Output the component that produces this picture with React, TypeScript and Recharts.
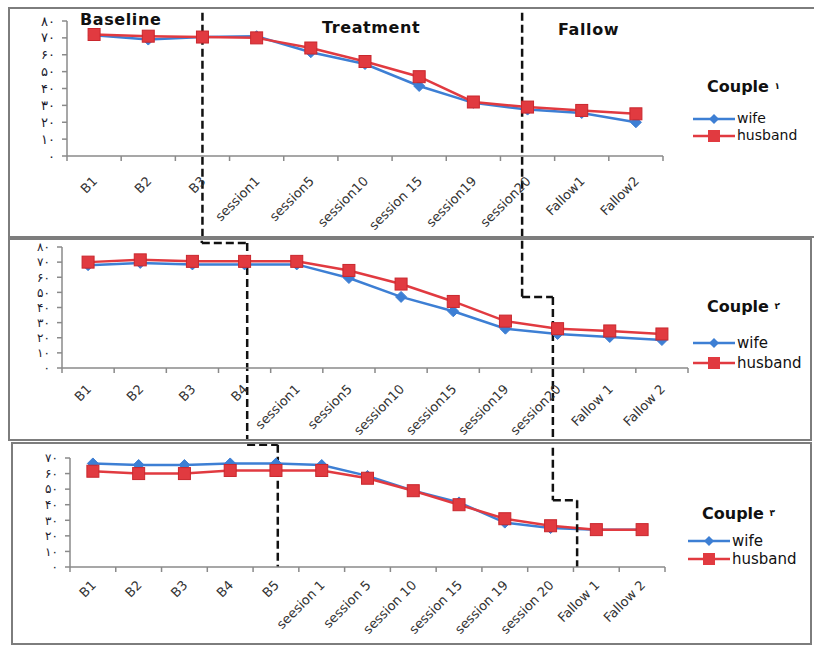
import { Line, LineChart, ReferenceLine, XAxis, YAxis } from "recharts";

const wifeColor = "#3d7fd4";
const husbandColor = "#e13a40";
const font = "'DejaVu Sans', 'Noto Sans', sans-serif";

// couple 1
const labels1 = ["B1", "B2", "B3", "session1", "session5", "session10", "session 15", "session19", "session20", "Fallow1", "Fallow2"];
const wife1 = [71.5, 69, 70.5, 71, 61.5, 54.5, 41.5, 31.5, 27.5, 25.5, 20];
const husband1 = [72, 71, 70.5, 70, 64, 56, 47, 32, 29, 27, 25];

// couple 2
const labels2 = ["B1", "B2", "B3", "B4", "session1", "session5", "session10", "session15", "session19", "session20", "Fallow 1", "Fallow 2"];
const wife2 = [68, 69.5, 68.5, 68.5, 68.5, 59.5, 47, 37.5, 26, 22.5, 20.5, 18.5];
const husband2 = [70, 71.5, 70.5, 70.5, 70.5, 64.5, 55.5, 44, 31, 26, 24.5, 22.5];

// couple 3
const labels3 = ["B1", "B2", "B3", "B4", "B5", "seesion 1", "session 5", "session 10", "session 15", "session 19", "session 20", "Fallow 1", "Fallow 2"];
const wife3 = [66.5, 65.5, 65.5, 66.5, 66.5, 65.5, 58.5, 49, 41.5, 28.5, 25, 24, 24];
const husband3 = [61.5, 60, 60, 62, 62, 62, 57, 49, 40, 31, 26.5, 24, 24];

// persian y tick labels
const yTickValues80 = [0, 10, 20, 30, 40, 50, 60, 70, 80];
const yTickValues70 = [0, 10, 20, 30, 40, 50, 60, 70];
const yTickLabels = ["۰", "۱۰", "۲۰", "۳۰", "۴۰", "۵۰", "۶۰", "۷۰", "۸۰"];

const seriesNames = ["wife", "husband"];

// phase change lines (x in category index units, y in value units)
const phases1 = [
  [[2, 92], [2, -52]],
  [[7.9, 92], [7.9, -52]],
];
const phases2 = [
  [[2.18, 92], [2.18, 82.6], [3.05, 82.6], [3.05, -52]],
  [[8.32, 92], [8.32, 46.9], [8.91, 46.9], [8.91, -52]],
];
const phases3 = [
  [[3.37, 92], [3.37, 78.5], [4.04, 78.5], [4.04, 0]],
  [[10.05, 92], [10.05, 42.9], [10.58, 42.9], [10.58, 0]],
];

function Diamond(props: any) {
  const { cx, cy, index } = props;
  if (cx == null || cy == null) return <g key={`w-${index}`} />;
  const r = 5.5;
  return (
    <polygon
      key={`w-${index}`}
      points={`${cx},${cy - r} ${cx + r},${cy} ${cx},${cy + r} ${cx - r},${cy}`}
      fill={wifeColor}
      stroke={wifeColor}
    />
  );
}

function Square(props: any) {
  const { cx, cy, index } = props;
  if (cx == null || cy == null) return <g key={`h-${index}`} />;
  return (
    <rect key={`h-${index}`} x={cx - 6} y={cy - 6} width={12} height={12} fill={husbandColor} stroke="#c9272d" />
  );
}

function makeTick(labels: string[], step: number, dy: number) {
  return function Tick(props: any) {
    const { x, y, payload } = props;
    const idx = Math.round(payload.value + 0.5);
    if (idx < 0 || idx >= labels.length) return <g />;
    const ax = x + step / 2 + 4;
    const ay = y + dy;
    return (
      <text
        x={ax}
        y={ay}
        textAnchor="end"
        transform={`rotate(-45, ${ax}, ${ay})`}
        fontSize={13}
        fontFamily={font}
        fill="#333"
      >
        {labels[idx]}
      </text>
    );
  };
}

type LegendBoxProps = {
  title: string;
  num: string;
  left: number;
  top: number;
  titleGap: number;
  rowGap: number;
  fontSize: number;
};

function LegendBox({ title, num, left, top, titleGap, rowGap, fontSize }: LegendBoxProps) {
  return (
    <div style={{ position: "absolute", left, top, fontFamily: font, color: "#111" }}>
      <div style={{ fontWeight: 700, fontSize: 16, height: titleGap, lineHeight: "19px", paddingLeft: 14 }}>
        {title} <span style={{ fontSize: 9, verticalAlign: "top" }}>{num}</span>
      </div>
      {seriesNames.map((name) => (
        <div key={name} style={{ display: "flex", alignItems: "center", height: rowGap, lineHeight: `${rowGap}px` }}>
          <svg width={42} height={14}>
            <line x1={0} y1={7} x2={42} y2={7} stroke={name === "wife" ? wifeColor : husbandColor} strokeWidth={2.5} />
            {name === "wife" ? (
              <polygon points="21,2 26,7 21,12 16,7" fill={wifeColor} />
            ) : (
              <rect x={15} y={1} width={12} height={12} fill={husbandColor} />
            )}
          </svg>
          <span style={{ fontSize, marginLeft: 2, lineHeight: `${rowGap}px` }}>{name}</span>
        </div>
      ))}
    </div>
  );
}

type PanelProps = {
  left: number;
  top: number;
  width: number;
  height: number;
  noRightBorder?: boolean;
  labels: string[];
  wife: number[];
  husband: number[];
  yTicks: number[];
  yFont: number;
  plotLeft: number;
  plotRight: number;
  plotTop: number;
  plotHeight: number;
  labelDy: number;
  phases: number[][][];
  num: string;
  legendLeft: number;
  legendTop: number;
  titleGap: number;
  rowGap: number;
  legendFont: number;
  children?: any;
};

function Panel(p: PanelProps) {
  const n = p.labels.length;
  const data = p.labels.map((label, i) => ({ i, label, wife: p.wife[i], husband: p.husband[i] }));
  const boundaries = Array.from({ length: n + 1 }, (_, k) => k - 0.5);
  const step = (p.plotRight - p.plotLeft) / n;
  const yMax = p.yTicks[p.yTicks.length - 1];
  const segments = p.phases.flatMap((pts, pi) =>
    pts.slice(1).map((pt, k) => ({ key: `${pi}-${k}`, from: pts[k], to: pt }))
  );
  return (
    <div
      style={{
        position: "absolute",
        left: p.left,
        top: p.top,
        width: p.width,
        height: p.height,
        border: "2px solid #7d7d7d",
        borderRight: p.noRightBorder ? "none" : "2px solid #7d7d7d",
        background: "#fff",
      }}
    >
      <LineChart
        width={p.width}
        height={p.height}
        data={data}
        margin={{ top: p.plotTop, right: p.width - p.plotRight, left: 0, bottom: 0 }}
      >
        <XAxis
          type="number"
          dataKey="i"
          domain={[-0.5, n - 0.5]}
          ticks={boundaries}
          interval={0}
          height={p.height - p.plotTop - p.plotHeight}
          stroke="#8a8a8a"
          strokeWidth={1.5}
          tickSize={5}
          tick={makeTick(p.labels, step, p.labelDy)}
        />
        <YAxis
          type="number"
          domain={[0, yMax]}
          ticks={p.yTicks}
          interval={0}
          width={p.plotLeft}
          stroke="#8a8a8a"
          strokeWidth={1.5}
          tickSize={5}
          tickMargin={7}
          tick={{ fontSize: p.yFont, fill: "#1a1a2e", fontFamily: font }}
          tickFormatter={(v: number) => yTickLabels[v / 10]}
        />
        <Line
          type="linear"
          dataKey="wife"
          name="wife"
          stroke={wifeColor}
          strokeWidth={2.5}
          dot={Diamond}
          activeDot={false}
          isAnimationActive={false}
        />
        <Line
          type="linear"
          dataKey="husband"
          name="husband"
          stroke={husbandColor}
          strokeWidth={2.5}
          dot={Square}
          activeDot={false}
          isAnimationActive={false}
        />
        {segments.map((s) => (
          <ReferenceLine
            key={s.key}
            segment={[
              { x: s.from[0], y: s.from[1] },
              { x: s.to[0], y: s.to[1] },
            ]}
            ifOverflow="visible"
            stroke="#111"
            strokeWidth={2.5}
            strokeDasharray="8 4"
          />
        ))}
      </LineChart>
      <LegendBox
        title="Couple"
        num={p.num}
        left={p.legendLeft}
        top={p.legendTop}
        titleGap={p.titleGap}
        rowGap={p.rowGap}
        fontSize={p.legendFont}
      />
      {p.children}
    </div>
  );
}

const phaseTitle = {
  position: "absolute" as const,
  fontFamily: font,
  fontWeight: 700,
  fontSize: 16,
  color: "#111",
  letterSpacing: 0.6,
};

export default function App() {
  return (
    <div style={{ position: "absolute", left: 0, top: 0, width: 814, height: 647, overflow: "hidden", background: "#fff" }}>
      <Panel
        left={8}
        top={7}
        width={806}
        height={227}
        noRightBorder
        labels={labels1}
        wife={wife1}
        husband={husband1}
        yTicks={yTickValues80}
        yFont={13}
        plotLeft={57}
        plotRight={653}
        plotTop={12}
        plotHeight={135}
        labelDy={19}
        phases={phases1}
        num="۱"
        legendLeft={683}
        legendTop={68}
        titleGap={33}
        rowGap={17}
        legendFont={14}
      >
        <div style={{ ...phaseTitle, left: 70, top: 1 }}>Baseline</div>
        <div style={{ ...phaseTitle, left: 312, top: 9 }}>Treatment</div>
        <div style={{ ...phaseTitle, left: 548, top: 11 }}>Fallow</div>
      </Panel>
      <Panel
        left={8}
        top={238}
        width={800}
        height={199}
        labels={labels2}
        wife={wife2}
        husband={husband2}
        yTicks={yTickValues80}
        yFont={12}
        plotLeft={52}
        plotRight={678}
        plotTop={7}
        plotHeight={121}
        labelDy={15}
        phases={phases2}
        num="۲"
        legendLeft={683}
        legendTop={57}
        titleGap={36}
        rowGap={20}
        legendFont={15}
      />
      <Panel
        left={11}
        top={442}
        width={797}
        height={199}
        labels={labels3}
        wife={wife3}
        husband={husband3}
        yTicks={yTickValues70}
        yFont={12}
        plotLeft={57}
        plotRight={652}
        plotTop={14}
        plotHeight={109}
        labelDy={12}
        phases={phases3}
        num="۳"
        legendLeft={675}
        legendTop={60}
        titleGap={28}
        rowGap={18}
        legendFont={15}
      />
    </div>
  );
}
